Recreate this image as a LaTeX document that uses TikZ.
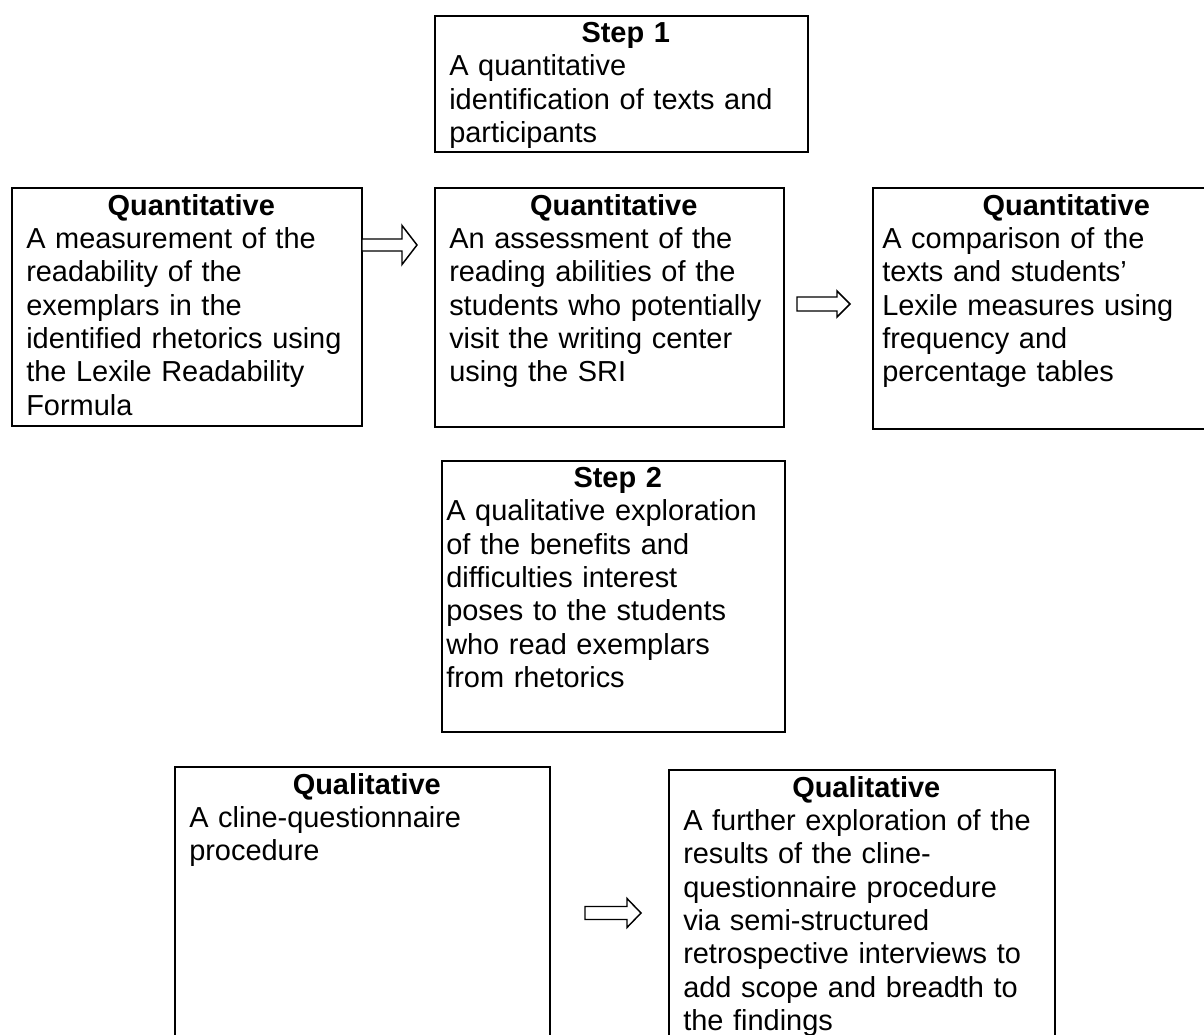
\documentclass[tikz,border=0pt]{standalone}
\usepackage{fontspec}
\setmainfont{Liberation Sans}
\usetikzlibrary{fit}
\newcommand\blockarrow[6]{%
  \draw[blk] (#1,#4-#5) -- (#2,#4-#5) -- (#2,#4-#6) -- (#3,#4) -- (#2,#4+#6) -- (#2,#4+#5) -- (#1,#4+#5) -- cycle;}
\begin{document}
\begin{tikzpicture}[x=0.75pt,y=-0.75pt,
  frame/.style={draw, line width=1.5pt, inner sep=0pt},
  txt/.style={anchor=north west, inner sep=0pt, font=\fontsize{21.7}{25}\selectfont},
  blk/.style={draw, line width=1.1pt, fill=white, line join=miter}]
\useasboundingbox (0,0) rectangle (1204,1035);

% boxes
\node[frame, fit={(435,16) (808,152)}] (s1) {};
\node[frame, fit={(12,188) (362,426)}] (q1) {};
\node[frame, fit={(435,188) (784,427)}] (q2) {};
\node[frame, fit={(873,188) (1251,429)}] (q3) {};
\node[frame, fit={(442,461) (785,732)}] (s2) {};
\node[frame, fit={(175,767) (550,1045)}] (l1) {};
\node[frame, fit={(669,770) (1055,1045)}] (l2) {};

% texts
\node[txt, text width=264.75pt] (s1t) at ([shift={(15,7)}]s1.north west)
  {{\centering\bfseries Step 1\par}\raggedright A quantitative\\identification of texts and\\participants};
\node[txt, text width=247.5pt] (q1t) at ([shift={(15,7)}]q1.north west)
  {{\centering\bfseries Quantitative\par}\raggedright A measurement of the\\readability of the\\exemplars in the\\identified rhetorics using\\the Lexile Readability\\Formula};
\node[txt, text width=246.75pt] (q2t) at ([shift={(15,7)}]q2.north west)
  {{\centering\bfseries Quantitative\par}\raggedright An assessment of the\\reading abilities of the\\students who potentially\\visit the writing center\\using the SRI};
\node[txt, text width=276pt] (q3t) at ([shift={(10,7)}]q3.north west)
  {{\centering\bfseries Quantitative\par}\raggedright A comparison of the\\texts and students’\\Lexile measures using\\frequency and\\percentage tables};
\node[txt, text width=257.25pt] (s2t) at ([shift={(5,7)}]s2.north west)
  {{\centering\bfseries Step 2\par}\raggedright A qualitative exploration\\of the benefits and\\difficulties interest\\poses to the students\\who read exemplars\\from rhetorics};
\node[txt, text width=266.25pt] (l1t) at ([shift={(15,7)}]l1.north west)
  {{\centering\bfseries Qualitative\par}\raggedright A cline-questionnaire\\procedure};
\node[txt, text width=274.5pt] (l2t) at ([shift={(15,7)}]l2.north west)
  {{\centering\bfseries Qualitative\par}\raggedright A further exploration of the\\results of the cline-\\questionnaire procedure\\via semi-structured\\retrospective interviews to\\add scope and breadth to\\the findings};

% block arrows
\blockarrow{362}{402}{417}{245}{6}{19.5}
\blockarrow{797}{837}{850}{304}{7}{13}
\blockarrow{585}{627}{641}{913}{6.5}{14.5}
\end{tikzpicture}
\end{document}
